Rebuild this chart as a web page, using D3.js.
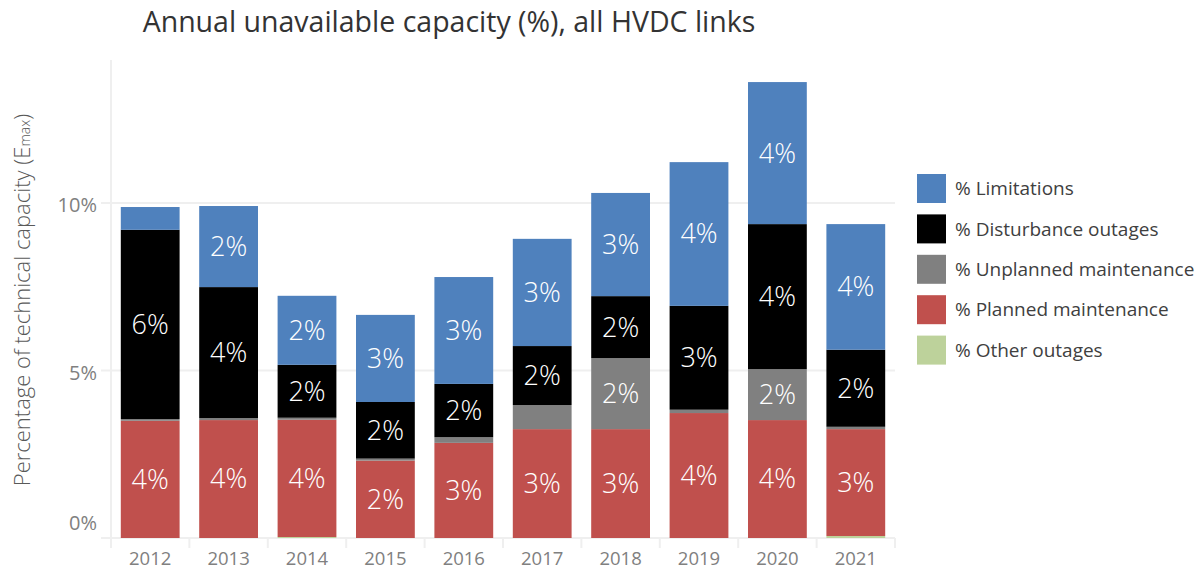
<!DOCTYPE html>
<html lang="en">
<head>
  <meta charset="UTF-8">
  <title>Annual unavailable capacity</title>
  <style>
  body { margin: 0; background: #fff; }
  svg { display: block; font-family: "Open Sans", sans-serif; }
  </style>
</head>
<body>
  <svg></svg>
  <script src="https://d3js.org/d3.v7.min.js"></script>
  <script>
  // data (% of technical capacity)
  var years = ["2012", "2013", "2014", "2015", "2016", "2017", "2018", "2019", "2020", "2021"];
  var other = [0, 0, 0.03, 0, 0, 0, 0, 0, 0, 0.06];
  var planned = [3.5, 3.52, 3.5, 2.31, 2.84, 3.25, 3.25, 3.73, 3.52, 3.19];
  var unplanned = [0.05, 0.06, 0.06, 0.06, 0.17, 0.72, 2.12, 0.10, 1.52, 0.07];
  var disturbance = [5.65, 3.91, 1.58, 1.69, 1.59, 1.76, 1.85, 3.10, 4.33, 2.30];
  var limitations = [0.68, 2.42, 2.06, 2.60, 3.19, 3.20, 3.08, 4.29, 4.24, 3.75];
  var yTicks = [0, 5, 10];

  var keys = ["other", "planned", "unplanned", "disturbance", "limitations"];
  var names = {
    limitations: "% Limitations",
    disturbance: "% Disturbance outages",
    unplanned: "% Unplanned maintenance",
    planned: "% Planned maintenance",
    other: "% Other outages"
  };
  var colors = {
    other: "#bdd29b",
    planned: "#c0504d",
    unplanned: "#808080",
    disturbance: "#000000",
    limitations: "#4f81bd"
  };

  var rows = years.map((y, i) => ({
    year: y, other: other[i], planned: planned[i], unplanned: unplanned[i],
    disturbance: disturbance[i], limitations: limitations[i]
  }));

  var width = 1202, height = 572;
  var svg = d3.select("svg").attr("width", width).attr("height", height);

  var x = d3.scaleBand().domain(years).range([111, 895])
            .paddingInner(0.25).paddingOuter(0.125);
  var y = d3.scaleLinear().domain([0, 10]).range([538, 203]);

  // gridlines
  svg.selectAll(".grid").data(yTicks).enter().append("line")
      .attr("x1", 101).attr("x2", 895)
      .attr("y1", d => y(d)).attr("y2", d => y(d))
      .attr("stroke", "#efefef").attr("stroke-width", 2);

  // y axis line
  svg.append("line").attr("x1", 111).attr("x2", 111).attr("y1", 60).attr("y2", 548)
      .attr("stroke", "#efefef").attr("stroke-width", 2);

  // category separators on x axis
  var step = x.step();
  svg.selectAll(".sep").data(d3.range(years.length + 1)).enter().append("line")
      .attr("x1", i => 111 + i * step).attr("x2", i => 111 + i * step)
      .attr("y1", y(0)).attr("y2", y(0) + 10)
      .attr("stroke", "#efefef").attr("stroke-width", 2);

  // y tick labels
  svg.selectAll(".ylab").data(yTicks).enter().append("text")
      .attr("x", 97)
      .attr("y", d => y(d) + (d === 0 ? -15 : 2))
      .attr("dy", "0.35em")
      .attr("text-anchor", "end")
      .attr("fill", "#808080")
      .attr("font-size", 20)
      .text(d => d + "%");

  // x tick labels
  svg.selectAll(".xlab").data(years).enter().append("text")
      .attr("x", d => x(d) + x.bandwidth() / 2)
      .attr("y", 559)
      .attr("dy", "0.35em")
      .attr("text-anchor", "middle")
      .attr("fill", "#808080")
      .attr("font-size", 18.5)
      .text(d => d);

  // stacked bars
  var series = d3.stack().keys(keys)(rows);
  var groups = svg.selectAll(".series").data(series).enter().append("g")
      .attr("fill", d => colors[d.key]);
  groups.selectAll("rect").data(d => d).enter().append("rect")
      .attr("x", d => x(d.data.year))
      .attr("width", x.bandwidth())
      .attr("y", d => y(d[1]))
      .attr("height", d => y(d[0]) - y(d[1]));

  // segment labels (only for segments of 1% or more)
  groups.selectAll("text").data(d => d.map(p => ({ p: p, v: p[1] - p[0] }))).enter()
      .filter(d => d.v >= 1)
      .append("text")
      .attr("x", d => x(d.p.data.year) + x.bandwidth() / 2)
      .attr("y", d => y((d.p[0] + d.p[1]) / 2))
      .attr("dy", "0.35em")
      .attr("text-anchor", "middle")
      .attr("fill", "#fff")
      .attr("font-size", 27)
      .attr("font-weight", 300)
      .text(d => Math.round(d.v) + "%");

  // title
  svg.append("text")
      .attr("x", 449).attr("y", 22).attr("dy", "0.35em")
      .attr("text-anchor", "middle")
      .attr("fill", "#333")
      .attr("font-size", 28.5)
      .text("Annual unavailable capacity (%), all HVDC links");

  // y axis title
  var yt = svg.append("text")
      .attr("transform", "translate(22,300) rotate(-90)")
      .attr("dy", "0.35em")
      .attr("text-anchor", "middle")
      .attr("fill", "#595959")
      .attr("font-size", 22)
      .attr("font-weight", 300);
  yt.append("tspan").text("Percentage of technical capacity (E");
  yt.append("tspan").attr("font-size", 14).text("max");
  yt.append("tspan").text(")");

  // legend
  var legendKeys = ["limitations", "disturbance", "unplanned", "planned", "other"];
  var lg = svg.selectAll(".legend").data(legendKeys).enter().append("g")
      .attr("transform", (d, i) => "translate(917," + (174 + i * 40.4) + ")");
  lg.append("rect").attr("width", 29).attr("height", 29).attr("fill", d => colors[d]);
  lg.append("text").attr("x", 38).attr("y", 14.5).attr("dy", "0.35em")
      .attr("fill", "#404040").attr("font-size", 19)
      .text(d => names[d]);
  </script>
</body>
</html>
